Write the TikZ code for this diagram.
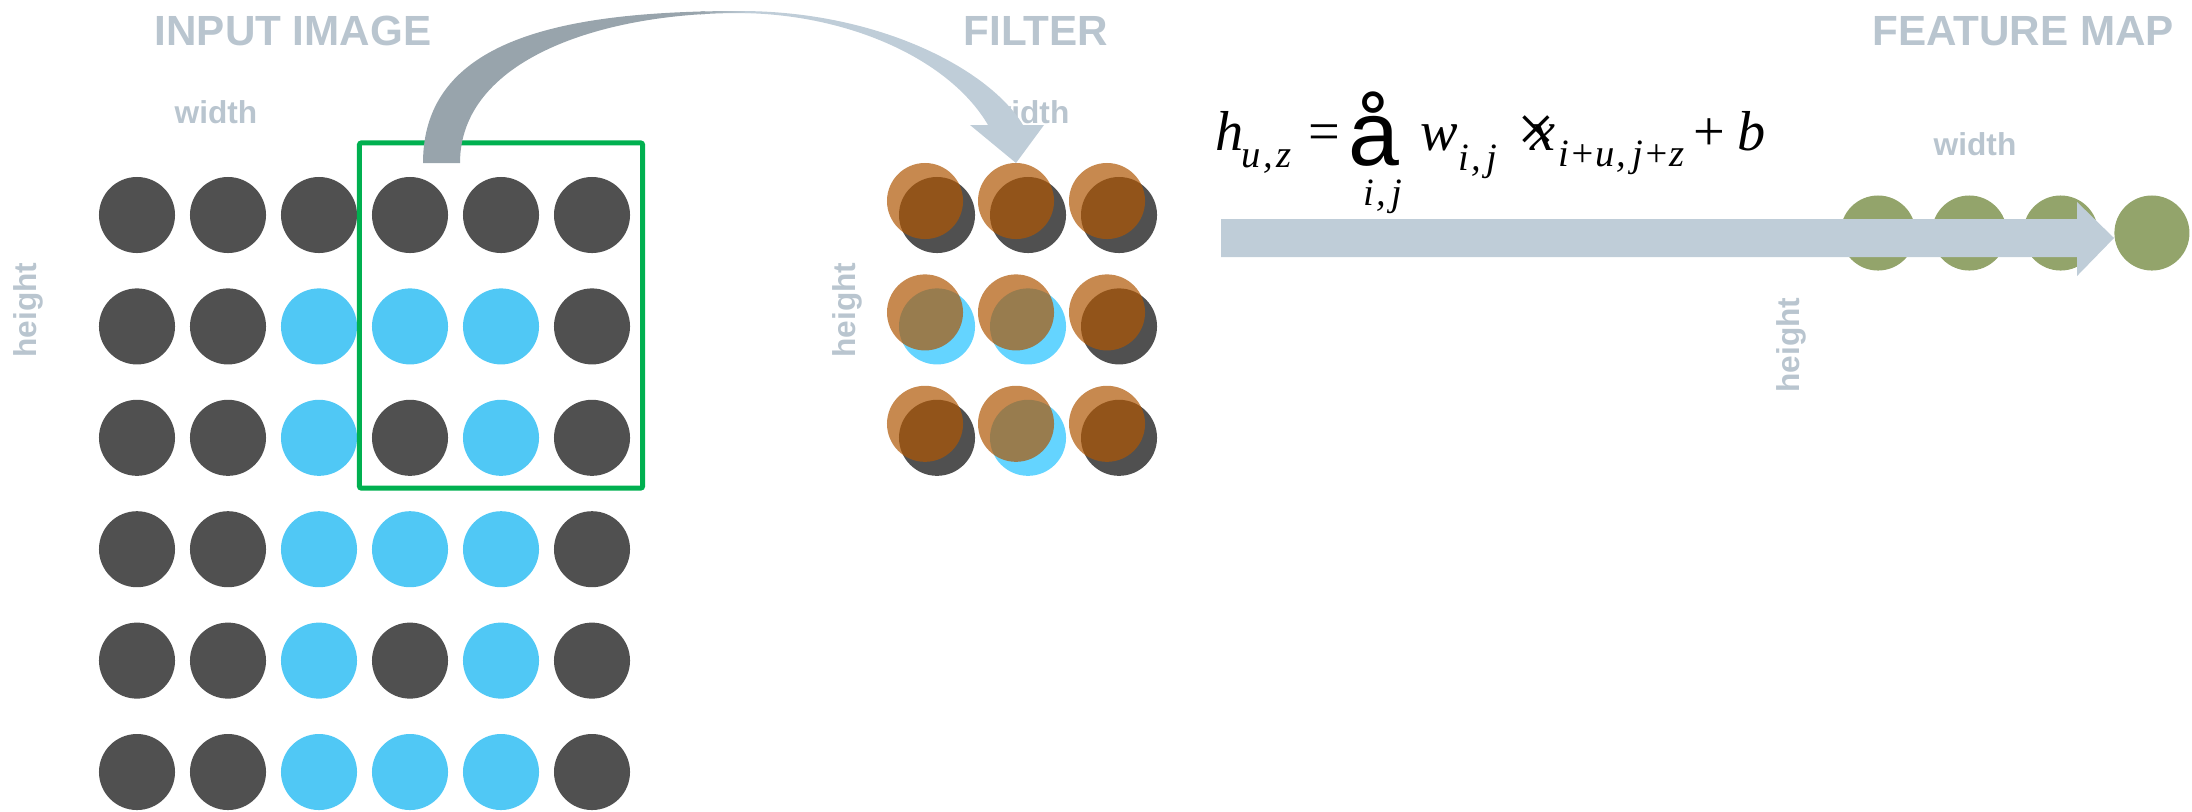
\documentclass[tikz,border=0pt]{standalone}
\usepackage{fontspec}
\setmainfont{Liberation Serif}
\newfontfamily\lsans{Liberation Sans}
\definecolor{dk}{RGB}{80,80,80}
\definecolor{bl}{RGB}{80,200,245}
\definecolor{fbl}{RGB}{100,212,255}
\definecolor{org}{RGB}{175,87,4}
\definecolor{grn}{RGB}{0,176,80}
\definecolor{olv}{RGB}{147,164,107}
\definecolor{lab}{RGB}{185,197,207}
\definecolor{arrL}{RGB}{191,205,216}
\definecolor{arrD}{RGB}{152,164,172}
\begin{document}
\begin{tikzpicture}[x=0.01cm,y=-0.01cm,
  dot/.style={circle,inner sep=0pt,minimum size=0.76cm,draw=none},
  title/.style={font=\lsans\bfseries\fontsize{12}{12}\selectfont,text=lab,anchor=base,inner sep=0pt},
  dim/.style={font=\lsans\bfseries\fontsize{9}{9}\selectfont,text=lab,inner sep=0pt},
  fm/.style={font=\itshape\fontsize{16}{16}\selectfont,anchor=base west,inner sep=0pt},
  fu/.style={font=\fontsize{16}{16}\selectfont,anchor=base west,inner sep=0pt},
  fs/.style={font=\itshape\fontsize{11}{11}\selectfont,anchor=base west,inner sep=0pt}]
\useasboundingbox (0,0) rectangle (2192,811);

% titles and dimension labels
\node[title] (t1) at (293,45) {INPUT IMAGE};
\node[title] (t2) at (1036,45) {FILTER};
\node[title] (t3) at (2023,45) {FEATURE MAP};
\node[dim,anchor=base] (w1) at (216,123) {width};
\node[dim,anchor=base] (w2) at (1028,123) {width};
\node[dim,anchor=base] (w3) at (1975,155) {width};
\node[dim,rotate=90] (h1) at (28,310) {height};
\node[dim,rotate=90] (h2) at (847,310) {height};
\node[dim,rotate=90] (h3) at (1791,345) {height};

% input image
\foreach \r/\cols in {1/{dk,dk,dk,dk,dk,dk},2/{dk,dk,bl,bl,bl,dk},3/{dk,dk,bl,dk,bl,dk},4/{dk,dk,bl,bl,bl,dk},5/{dk,dk,bl,dk,bl,dk},6/{dk,dk,bl,bl,bl,dk}}{
  \foreach \col [count=\c] in \cols {
    \node[dot,fill=\col] (in-\r-\c) at ({137+(\c-1)*91},{215+(\r-1)*111.4}) {};
  }
}
\node[draw=grn,line width=0.05cm,rounded corners=0.02cm,minimum width=2.83cm,minimum height=3.45cm,inner sep=0pt] (win) at (501,315.5) {};

% filter
\foreach \r/\cols in {1/{dk,dk,dk},2/{fbl,fbl,dk},3/{dk,fbl,dk}}{
  \foreach \col [count=\c] in \cols {
    \node[dot,fill=\col] (fb-\r-\c) at ({937+(\c-1)*91},{215+(\r-1)*111.4}) {};
  }
}
\foreach \r in {1,2,3}{
  \foreach \c in {1,2,3}{
    \node[dot,fill=org,fill opacity=0.7] (fo-\r-\c) at ({925+(\c-1)*91},{201+(\r-1)*111.4}) {};
  }
}

% feature map
\foreach \c in {1,...,4}{
  \node[dot,fill=olv,minimum size=0.75cm] (fm-\c) at ({1878+(\c-1)*91.3},233) {};
}

% horizontal block arrow
\fill[arrL] (1221,219) -- (2077,219) -- (2077,202) -- (2114,238) -- (2077,276) -- (2077,257) -- (1221,257) -- cycle;

% curved block arrow
\begin{scope}
\clip (423,163) .. controls (423,40) and (560,11) .. (740,11) .. controls (880,11) and (990,70) .. (1023,125) -- (1044,125) -- (1016,163) -- (970,125) -- (988,125) .. controls (950,60) and (850,14) .. (740,13) .. controls (600,13) and (460,60) .. (460,163) -- cycle;
\fill[arrD] (400,0) rectangle (705,170);
\shade[left color=arrD,right color=arrL] (700,0) rectangle (750,170);
\fill[arrL] (745,0) rectangle (1050,170);
\end{scope}

% formula
\node[fm] (f1) at (1215,150) {h};
\node[fs] (f2) at (1241,167) {u\kern0.05em,\kern0.1em z};
\node[fu] (f3) at (1308,150) {=};
\node[font=\lsans\fontsize{26}{26}\selectfont,anchor=base west,inner sep=0pt] (f4) at (1348,165) {å};
\node[fs] (f5) at (1363,205) {i\kern0.05em,\kern0.15em j};
\node[fm] (f6) at (1420,150) {w};
\node[fs] (f7) at (1458,170) {i\kern0.05em,\kern0.15em j};
\node[font=\fontsize{19}{19}\selectfont,anchor=base west,inner sep=0pt] (f8) at (1517,151) {×};
\node[fm] (f9) at (1530,150) {x};
\node[fs] (f10) at (1558,166) {i+u\kern0.05em,\kern0.15em j+z};
\node[fu] (f11) at (1693,150) {+};
\node[fm] (f12) at (1737,150) {b};
\end{tikzpicture}
\end{document}
